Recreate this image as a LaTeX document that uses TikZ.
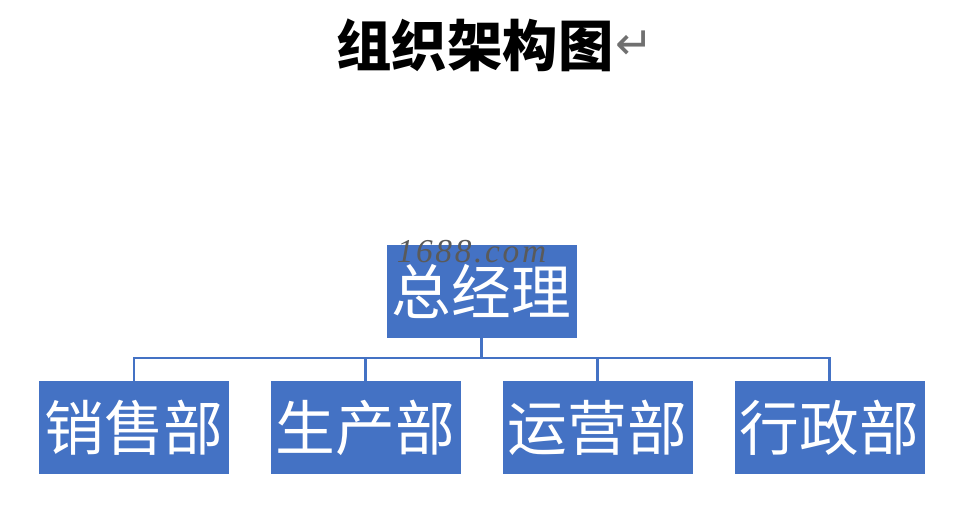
\documentclass[tikz,border=0pt]{standalone}
\usepackage{fontspec}
\usepackage{tikz}
\usetikzlibrary{positioning,calc}
\newfontfamily\cjk{Noto Sans CJK SC}
\newfontfamily\cjkheavy{Noto Sans CJK SC Black}
\newfontfamily\symfont{DejaVu Sans}
\newfontfamily\markfont[LetterSpace=8]{Liberation Serif}
\definecolor{cBlue}{HTML}{4472C4}
\definecolor{cMark}{HTML}{707070}
\tikzset{
  unit/.style={rectangle,fill=cBlue,text=white,minimum width=3.8cm,
               minimum height=1.86cm,inner sep=0pt,font=\cjk\fontsize{34}{38}\selectfont},
  orgline/.style={draw=cBlue,line width=1.2pt},
  title/.style={font=\cjkheavy\fontsize{31.5}{36}\selectfont,inner sep=0pt},
}

\begin{document}
\begin{tikzpicture}
  \useasboundingbox (0,0) rectangle (19.26,10.14);
  \node[title](head) at (9.5,9.24){组织架构图};
  \node[right=1pt of head,font=\symfont\fontsize{26}{30}\selectfont,text=cMark,inner sep=0pt](ret){↵};
  \node[unit](gm) at (9.63,4.31){总经理};
  \foreach \i/\x/\t in {1/2.68/销售部,2/7.31/生产部,3/11.95/运营部,4/16.59/行政部}{
    \node[unit](d\i) at (\x,1.59){\t};}
  \node[font=\markfont\itshape\fontsize{19}{21}\selectfont,text=cMark!80!black,inner sep=0pt](mark) at (9.43,5.1){1688.com};
  \coordinate (bar) at (gm.south |- 0,2.98);
  \draw[orgline] (gm.south) -- (bar);
  \foreach \i in {1,...,4}{\draw[orgline] (bar) -| (d\i.north);}
\end{tikzpicture}
\end{document}
